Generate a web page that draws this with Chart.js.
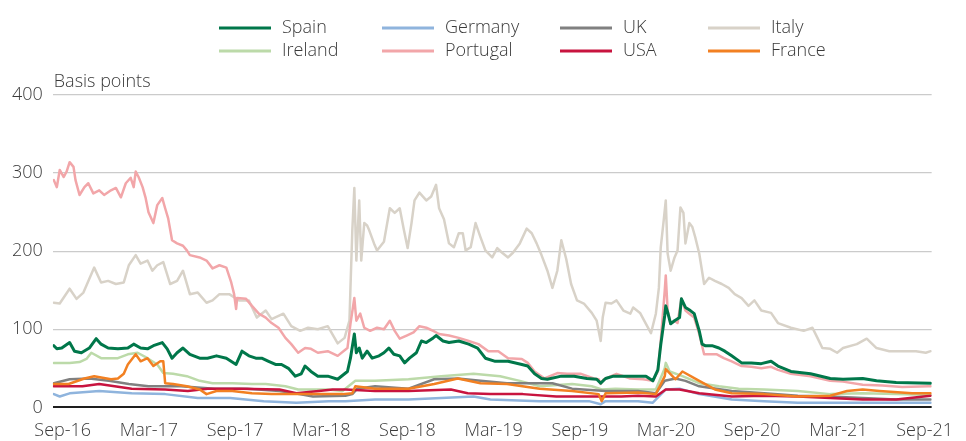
<!DOCTYPE html>
<html>
<head>
<meta charset="utf-8">
<script src="https://cdn.jsdelivr.net/npm/chart.js@4/dist/chart.umd.min.js"></script>
<style>
html,body{margin:0;padding:0;background:#ffffff;}
#wrap{width:966px;height:441px;position:relative;}
</style>
</head>
<body>
<div id="wrap"><canvas id="c" width="966" height="441"></canvas></div>
<script>
// x = months after Sep-2016, y = basis points
const xTickLabels = ['Sep-16','Mar-17','Sep-17','Mar-18','Sep-18','Mar-19','Sep-19','Mar-20','Sep-20','Mar-21','Sep-21'];
const yAxisTitle = 'Basis points';
const legendNames = ['Spain','Germany','UK','Italy','Ireland','Portugal','USA','France'];

const italy = [[-0.62,134],[-0.21,133],[0.48,152],[0.96,139],[1.44,147],[2.19,179],[2.67,160],[3.16,162],[3.70,158],[4.25,160],[4.60,182],[5.08,195],[5.42,184],[5.90,188],[6.24,175],[6.58,182],[7.00,186],[7.48,158],[7.96,162],[8.37,175],[8.85,145],[9.40,147],[10.01,134],[10.43,137],[10.91,145],[11.59,145],[12.28,137],[12.96,137],[13.51,115],[14.13,124],[14.54,113],[15.36,120],[15.91,104],[16.53,98],[17.08,102],[17.76,100],[18.45,104],[19.14,82],[19.62,89],[19.96,111],[20.03,153],[20.16,227],[20.30,281],[20.44,188],[20.64,265],[20.78,188],[20.99,236],[21.19,233],[21.33,227],[21.67,210],[21.88,201],[22.36,212],[22.77,255],[23.11,249],[23.46,255],[23.73,229],[24.01,204],[24.28,236],[24.49,265],[24.83,275],[25.31,265],[25.65,270],[25.99,285],[26.20,255],[26.54,241],[26.89,210],[27.23,205],[27.57,223],[27.85,223],[28.05,201],[28.40,205],[28.74,236],[29.08,218],[29.42,201],[29.90,192],[30.25,204],[30.59,198],[31.00,192],[31.34,198],[31.82,210],[32.30,229],[32.65,223],[32.99,210],[33.33,195],[33.74,175],[34.09,153],[34.43,175],[34.71,214],[35.05,190],[35.39,158],[35.80,137],[36.28,133],[36.83,121],[37.17,111],[37.45,85],[37.59,115],[37.79,134],[38.20,133],[38.55,137],[39.03,124],[39.51,120],[39.71,128],[40.19,121],[40.60,107],[40.95,95],[41.29,120],[41.50,153],[41.63,205],[41.84,240],[41.98,265],[42.11,197],[42.32,175],[42.59,192],[42.80,201],[43.00,256],[43.21,249],[43.35,210],[43.62,236],[43.83,231],[44.03,218],[44.31,197],[44.65,158],[44.99,166],[45.40,162],[45.88,158],[46.36,153],[46.78,145],[47.26,140],[47.74,130],[48.15,137],[48.63,124],[49.31,121],[49.79,108],[50.69,102],[51.58,98],[52.19,102],[52.54,89],[52.88,76],[53.43,75],[53.91,70],[54.32,76],[55.28,81],[55.97,88],[56.65,76],[57.54,72],[58.44,72],[59.40,72],[60.08,70],[60.42,72]];

const portugal = [[-0.62,291],[-0.41,282],[-0.21,304],[0.07,295],[0.27,302],[0.48,314],[0.75,308],[0.89,291],[1.17,272],[1.51,282],[1.78,287],[2.13,274],[2.54,278],[2.88,272],[3.36,278],[3.70,281],[4.05,269],[4.39,287],[4.73,294],[4.94,282],[5.08,302],[5.28,295],[5.56,282],[5.76,269],[5.97,250],[6.31,236],[6.58,259],[6.93,268],[7.13,255],[7.34,242],[7.61,214],[7.96,210],[8.37,207],[8.64,201],[8.85,195],[9.53,192],[10.01,188],[10.43,178],[10.91,182],[11.39,179],[11.73,160],[11.93,145],[12.07,126],[12.14,140],[12.76,139],[13.17,130],[13.65,120],[14.13,115],[14.54,108],[15.02,102],[15.50,89],[15.91,81],[16.39,70],[16.87,76],[17.28,75],[17.76,70],[18.45,72],[19.14,66],[19.82,76],[20.03,107],[20.30,140],[20.44,111],[20.71,120],[20.99,102],[21.40,98],[21.88,102],[22.36,100],[22.77,111],[23.11,98],[23.46,88],[23.94,92],[24.42,96],[24.83,104],[25.31,102],[25.79,98],[26.20,94],[26.89,92],[27.57,89],[28.26,85],[28.94,81],[29.63,72],[30.32,72],[31.00,63],[31.96,62],[32.37,57],[32.85,46],[33.54,37],[34.43,44],[35.12,43],[36.08,43],[36.97,37],[37.31,36],[37.45,30],[37.65,36],[38.55,43],[39.51,37],[40.40,36],[41.08,34],[41.43,46],[41.63,85],[41.91,150],[41.98,169],[42.11,124],[42.32,107],[42.59,111],[42.80,108],[43.07,139],[43.35,124],[43.62,120],[43.96,115],[44.31,94],[44.65,68],[45.06,68],[45.54,68],[46.02,63],[46.57,59],[47.26,53],[47.94,52],[48.63,50],[49.31,52],[49.79,48],[50.69,43],[52.06,40],[53.43,34],[54.32,33],[55.69,29],[57.06,28],[58.44,26],[60.29,27],[60.42,27]];

const spain = [[-0.62,79],[-0.41,75],[-0.07,76],[0.48,83],[0.82,72],[1.30,70],[1.85,76],[2.33,88],[2.67,81],[3.16,76],[3.84,75],[4.53,76],[4.94,81],[5.42,76],[5.90,75],[6.31,79],[6.93,83],[7.27,75],[7.61,63],[7.96,70],[8.37,76],[8.85,68],[9.53,63],[10.08,63],[10.70,66],[11.39,63],[12.07,55],[12.48,72],[12.96,66],[13.44,63],[13.85,63],[14.33,59],[14.81,55],[15.23,55],[15.71,50],[16.19,40],[16.60,43],[16.87,53],[17.28,46],[17.76,40],[18.45,40],[19.14,36],[19.82,46],[20.03,63],[20.30,94],[20.44,70],[20.64,76],[20.85,63],[21.19,72],[21.54,63],[22.02,66],[22.36,70],[22.70,76],[23.05,68],[23.46,66],[23.80,57],[24.14,63],[24.62,70],[24.97,85],[25.31,83],[25.79,89],[25.99,92],[26.47,85],[26.89,83],[27.57,85],[28.26,81],[28.88,76],[29.42,63],[30.11,59],[31.00,59],[31.96,55],[32.37,53],[32.85,43],[33.33,37],[33.74,36],[34.71,40],[35.60,40],[36.49,37],[37.17,36],[37.45,31],[37.79,37],[38.34,40],[39.23,40],[39.71,40],[40.60,40],[41.08,34],[41.43,48],[41.63,80],[41.91,118],[41.98,130],[42.11,122],[42.32,107],[42.59,111],[42.94,115],[43.07,139],[43.35,128],[43.69,124],[43.96,120],[44.31,98],[44.51,81],[44.72,79],[45.20,79],[45.68,76],[46.09,72],[46.57,66],[47.26,57],[47.94,57],[48.63,56],[49.31,59],[49.79,53],[50.69,46],[52.06,43],[53.43,37],[54.32,36],[55.69,37],[56.65,34],[58.02,32],[60.42,31]];

const ireland = [[-0.62,57],[0.48,57],[1.17,58],[1.65,62],[1.99,70],[2.67,63],[3.84,63],[4.53,68],[5.21,70],[5.90,63],[6.58,55],[7.00,44],[7.68,43],[8.64,40],[9.53,34],[10.43,31],[11.80,31],[13.17,30],[14.13,30],[15.50,27],[16.39,23],[17.56,23],[18.45,23],[19.48,21],[20.37,34],[21.74,34],[24.07,36],[26.34,40],[28.60,43],[30.45,40],[31.82,34],[33.20,27],[35.46,30],[36.83,27],[37.52,23],[38.48,24],[40.05,23],[41.29,23],[41.91,50],[41.98,57],[42.25,46],[43.14,40],[44.31,31],[45.68,27],[47.05,24],[48.83,23],[51.17,21],[53.43,17],[55.69,18],[58.02,17],[60.42,16]];

const uk = [[-0.62,31],[0.48,36],[1.85,37],[3.22,34],[4.60,30],[5.97,27],[8.23,27],[10.56,24],[12.83,24],[15.09,21],[16.46,17],[17.42,14],[19.68,15],[20.16,17],[20.51,24],[21.74,27],[24.07,24],[25.86,36],[27.50,37],[29.08,34],[30.93,31],[32.72,31],[34.09,31],[35.46,24],[37.79,21],[40.05,21],[41.29,18],[41.91,34],[42.66,37],[43.35,34],[44.31,27],[46.57,21],[48.83,18],[51.17,15],[53.43,14],[55.69,12],[58.02,10],[60.42,10]];

const usa = [[-0.62,27],[1.37,27],[2.54,30],[4.80,24],[7.13,23],[8.71,21],[10.08,24],[12.35,24],[15.09,23],[16.26,18],[17.83,21],[18.79,23],[19.68,23],[21.74,21],[24.07,21],[27.02,23],[28.19,18],[29.77,17],[32.03,17],[34.36,14],[36.63,14],[38.89,14],[40.05,15],[41.29,14],[41.98,23],[42.94,23],[44.31,18],[46.57,14],[48.83,15],[51.17,14],[53.43,12],[55.69,10],[58.02,10],[60.42,15]];

const germany = [[-0.62,17],[-0.21,14],[0.48,18],[2.54,21],[4.80,18],[7.13,17],[9.40,12],[11.66,12],[13.99,8],[16.26,6],[18.52,8],[19.68,8],[21.74,10],[24.07,10],[26.34,12],[28.60,14],[29.77,10],[33.20,8],[36.63,8],[37.45,4],[37.79,8],[40.05,8],[41.08,6],[41.98,23],[42.94,24],[44.31,17],[46.57,10],[48.83,8],[51.17,6],[53.43,6],[55.69,6],[60.42,6]];

const france = [[-0.62,30],[0.41,30],[1.51,37],[2.19,40],[3.36,36],[3.84,37],[4.25,43],[4.53,55],[5.08,68],[5.42,59],[5.90,63],[6.31,53],[6.79,59],[7.00,59],[7.13,31],[7.68,30],[8.64,27],[9.53,23],[10.01,17],[10.70,21],[11.80,21],[13.17,18],[14.54,17],[15.91,17],[18.45,17],[19.48,17],[20.16,18],[20.37,27],[21.74,24],[24.07,24],[25.86,30],[27.50,37],[29.08,31],[30.93,30],[33.20,24],[35.46,21],[37.31,17],[37.52,8],[37.79,18],[40.05,19],[41.29,17],[41.91,40],[41.98,49],[42.66,36],[43.14,46],[44.31,34],[45.40,23],[46.57,18],[48.83,17],[51.17,14],[53.43,15],[54.60,21],[55.69,23],[56.86,21],[59.12,18],[60.42,18]];

const seriesStyle = {
  Spain:    {data: spain,    color: '#00774a', width: 3},
  Germany:  {data: germany,  color: '#8fb4dd', width: 2.5},
  UK:       {data: uk,       color: '#808080', width: 2.5},
  Italy:    {data: italy,    color: '#d8d2c8', width: 2.5},
  Ireland:  {data: ireland,  color: '#bcdaa9', width: 2.5},
  Portugal: {data: portugal, color: '#f2a6a9', width: 2.5},
  USA:      {data: usa,      color: '#c8143f', width: 2.5},
  France:   {data: france,   color: '#f28022', width: 2.5}
};
// drawing order: first = on top
const drawOrder = ['Spain','France','USA','Portugal','UK','Ireland','Germany','Italy'];

const FONT = "'Open Sans', 'Noto Sans', sans-serif";

const datasets = drawOrder.map(name => ({
  label: name,
  data: seriesStyle[name].data.map(p => ({x: p[0], y: p[1]})),
  borderColor: seriesStyle[name].color,
  backgroundColor: seriesStyle[name].color,
  borderWidth: seriesStyle[name].width,
  pointRadius: 0,
  tension: 0,
  fill: false,
  borderJoinStyle: 'round',
  borderCapStyle: 'round'
}));

const legendCols = [219, 382, 560, 708];
const legendRows = [28, 51];

const extras = {
  id: 'extras',
  afterDraw(chart) {
    const ctx = chart.ctx;
    const area = chart.chartArea;
    ctx.save();
    ctx.font = '300 18px ' + FONT;
    ctx.fillStyle = '#3a3a3a';
    ctx.textAlign = 'left';
    ctx.textBaseline = 'alphabetic';
    ctx.fillText(yAxisTitle, area.left + 1, area.top - 8);
    legendNames.forEach((name, i) => {
      const x = legendCols[i % 4];
      const y = legendRows[Math.floor(i / 4)];
      ctx.strokeStyle = seriesStyle[name].color;
      ctx.lineWidth = 3;
      ctx.beginPath();
      ctx.moveTo(x, y);
      ctx.lineTo(x + 52, y);
      ctx.stroke();
      ctx.fillStyle = '#3a3a3a';
      ctx.textBaseline = 'middle';
      ctx.fillText(name, x + 63, y);
    });
    ctx.restore();
  }
};

new Chart(document.getElementById('c'), {
  type: 'line',
  data: {datasets},
  options: {
    responsive: false,
    devicePixelRatio: 1,
    animation: false,
    layout: {padding: {top: 95, left: 2, right: 0, bottom: -14}},
    plugins: {legend: {display: false}, tooltip: {enabled: false}},
    scales: {
      x: {
        type: 'linear',
        min: -0.69,
        max: 60.49,
        afterBuildTicks: (scale) => { scale.ticks = xTickLabels.map((_, i) => ({value: i * 6})); },
        ticks: {
          autoSkip: false, maxRotation: 0, padding: 13,
          color: '#3a3a3a',
          font: {family: FONT, size: 18, weight: '300'},
          callback: (v) => xTickLabels[Math.round(v / 6)]
        },
        grid: {display: false, drawTicks: false},
        border: {display: false}
      },
      y: {
        min: 0, max: 400,
        ticks: {stepSize: 100, padding: 10, color: '#3a3a3a', font: {family: FONT, size: 18, weight: '300'}},
        grid: {
          drawTicks: false,
          color: (c) => c.tick && c.tick.value === 0 ? '#1e1e1e' : '#cbcbcb',
          lineWidth: (c) => c.tick && c.tick.value === 0 ? 2 : 1.3
        },
        border: {display: false}
      }
    }
  },
  plugins: [extras]
});
</script>
</body>
</html>
